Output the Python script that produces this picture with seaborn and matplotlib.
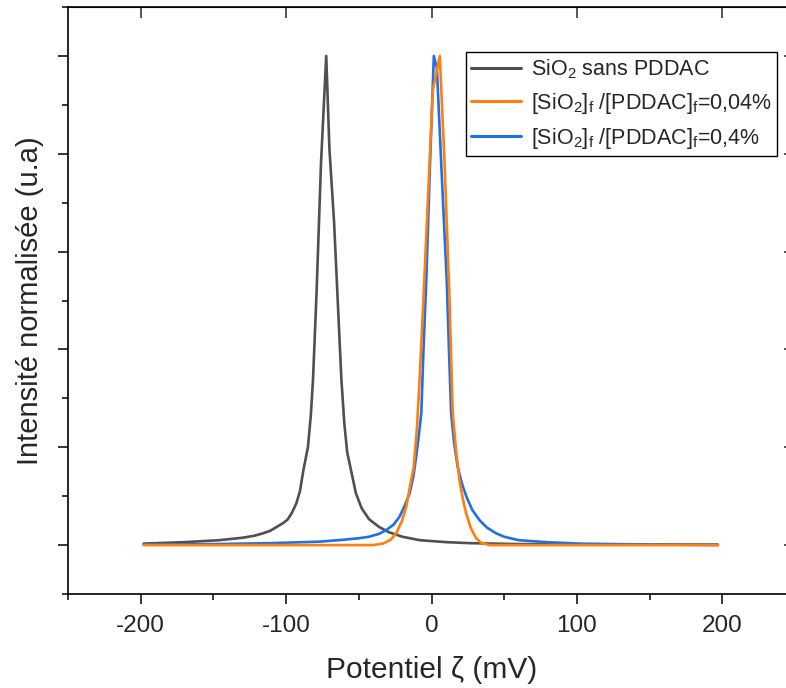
import numpy as np
import pandas as pd
import matplotlib
matplotlib.use('Agg')
import matplotlib.pyplot as plt
import seaborn as sns
from matplotlib.ticker import MultipleLocator

# values
gray_x = [-198, -170, -146, -130, -122, -116, -111, -106, -102, -99, -96, -93, -90.5, -88,
          -85, -83, -81.5, -79, -76, -72.4, -70.2, -67, -64.5, -62, -60, -58, -55, -52, -48,
          -43, -36, -29, -20, -8, 10, 26, 60, 100, 150, 197]
gray_y = [0.003, 0.006, 0.010, 0.015, 0.019, 0.024, 0.029, 0.038, 0.045, 0.052, 0.066, 0.085,
          0.110, 0.155, 0.200, 0.265, 0.338, 0.52, 0.78, 1.0, 0.81, 0.66, 0.50, 0.34, 0.25,
          0.19, 0.148, 0.106, 0.075, 0.053, 0.037, 0.026, 0.017, 0.010, 0.006, 0.004, 0.002,
          0.0015, 0.001, 0.001]

orange_x = [-198, -60, -40, -33.5, -28, -24.3, -20.5, -17.4, -14.5, -12.2, -10, -8.2, -5.5,
            0.9, 5.7, 9, 12.2, 14.6, 17, 19.2, 21.5, 23.8, 27, 30.7, 34, 40, 60, 197]
orange_y = [0.0, 0.0, 0.0, 0.003, 0.011, 0.024, 0.048, 0.078, 0.125, 0.16, 0.24, 0.338, 0.506,
            0.93, 1.0, 0.78, 0.52, 0.27, 0.19, 0.133, 0.095, 0.065, 0.035, 0.014, 0.005, 0.0,
            0.0, 0.0]

blue_x = [-198, -150, -110, -77, -60, -50, -43, -36, -31, -26, -22, -18.5, -15, -12.5, -10.5,
          -8.5, -7, -5.5, -3.6, -1, 1.6, 3.7, 7, 10.5, 12, 13.5, 15.5, 18, 21, 24, 28, 33, 38,
          44.5, 50, 60, 79, 102, 125, 160, 197]
blue_y = [0.001, 0.002, 0.004, 0.007, 0.011, 0.014, 0.017, 0.023, 0.031, 0.042, 0.058, 0.080,
          0.106, 0.14, 0.181, 0.23, 0.27, 0.40, 0.54, 0.78, 1.0, 0.975, 0.76, 0.54, 0.40, 0.27,
          0.21, 0.16, 0.125, 0.099, 0.072, 0.051, 0.036, 0.024, 0.017, 0.010, 0.006, 0.003,
          0.002, 0.001, 0.0]

labels = ['SiO$_2$ sans PDDAC',
          '[SiO$_2$]$_f$ /[PDDAC]$_f$=0,04%',
          '[SiO$_2$]$_f$ /[PDDAC]$_f$=0,4%']
colors = ['#505050', '#ff7f0e', '#1f6fe8']

df = pd.concat([
    pd.DataFrame({'x': gray_x, 'y': gray_y, 'serie': labels[0]}),
    pd.DataFrame({'x': orange_x, 'y': orange_y, 'serie': labels[1]}),
    pd.DataFrame({'x': blue_x, 'y': blue_y, 'serie': labels[2]}),
])

sns.set_style('ticks')
plt.rcParams['font.family'] = ['Liberation Sans', 'DejaVu Sans']
plt.rcParams['mathtext.fontset'] = 'custom'
plt.rcParams['mathtext.rm'] = 'Liberation Sans'
plt.rcParams['mathtext.it'] = 'Liberation Sans'
plt.rcParams['mathtext.default'] = 'regular'
plt.rcParams['axes.unicode_minus'] = False

fig = plt.figure(figsize=(7.86, 6.88), dpi=100)
ax = fig.add_axes([68 / 786, 94 / 688, 727 / 786, 587 / 688])

sns.lineplot(data=df, x='x', y='y', hue='serie', hue_order=labels,
             palette=dict(zip(labels, colors)), estimator=None, sort=False,
             linewidth=1.9, ax=ax)
ax.lines[1].set_zorder(3)

ax.set_xlim(-250, 250)
ax.set_ylim(-0.1, 1.1)
ax.xaxis.set_major_locator(MultipleLocator(100))
ax.xaxis.set_minor_locator(MultipleLocator(50))
ax.yaxis.set_major_locator(MultipleLocator(0.2))
ax.yaxis.set_minor_locator(MultipleLocator(0.1))
ax.set_yticks(np.arange(0, 1.01, 0.2))

for s in ax.spines.values():
    s.set_color('black')
    s.set_linewidth(1.2)

ax.tick_params(which='both', bottom=True, left=True, top=False, right=False)
ax.tick_params(which='major', direction='out', length=7.5, width=1.1, color='black',
               labelsize=17.5, pad=7.5, labelleft=False)
ax.tick_params(which='minor', direction='out', length=4, width=1.1, color='black')
# inward ticks on the top and right frame at major positions
sec_x = ax.secondary_xaxis('top')
sec_x.set_xticks([-200, -100, 0, 100, 200])
sec_x.tick_params(direction='in', length=8, width=1.1, labeltop=False)
sec_y = ax.secondary_yaxis('right')
sec_y.set_yticks(np.arange(0, 1.01, 0.2))
sec_y.tick_params(direction='in', length=8, width=1.1, labelright=False)

ax.set_xlabel('Potentiel ζ (mV)', fontsize=21.5, labelpad=14)
ax.set_ylabel('Intensité normalisée (u.a)', fontsize=21, labelpad=10)

leg = ax.legend(loc='upper right', bbox_to_anchor=(0.975, 0.923), borderaxespad=0,
                fontsize=15.5, frameon=True, fancybox=False, framealpha=1,
                edgecolor='black', handlelength=2.3, handletextpad=0.45,
                labelspacing=0.45, borderpad=0.25)
leg.get_frame().set_linewidth(1.0)
for h in leg.get_lines():
    h.set_linewidth(2.2)

fig.savefig('out.png', dpi=100)
